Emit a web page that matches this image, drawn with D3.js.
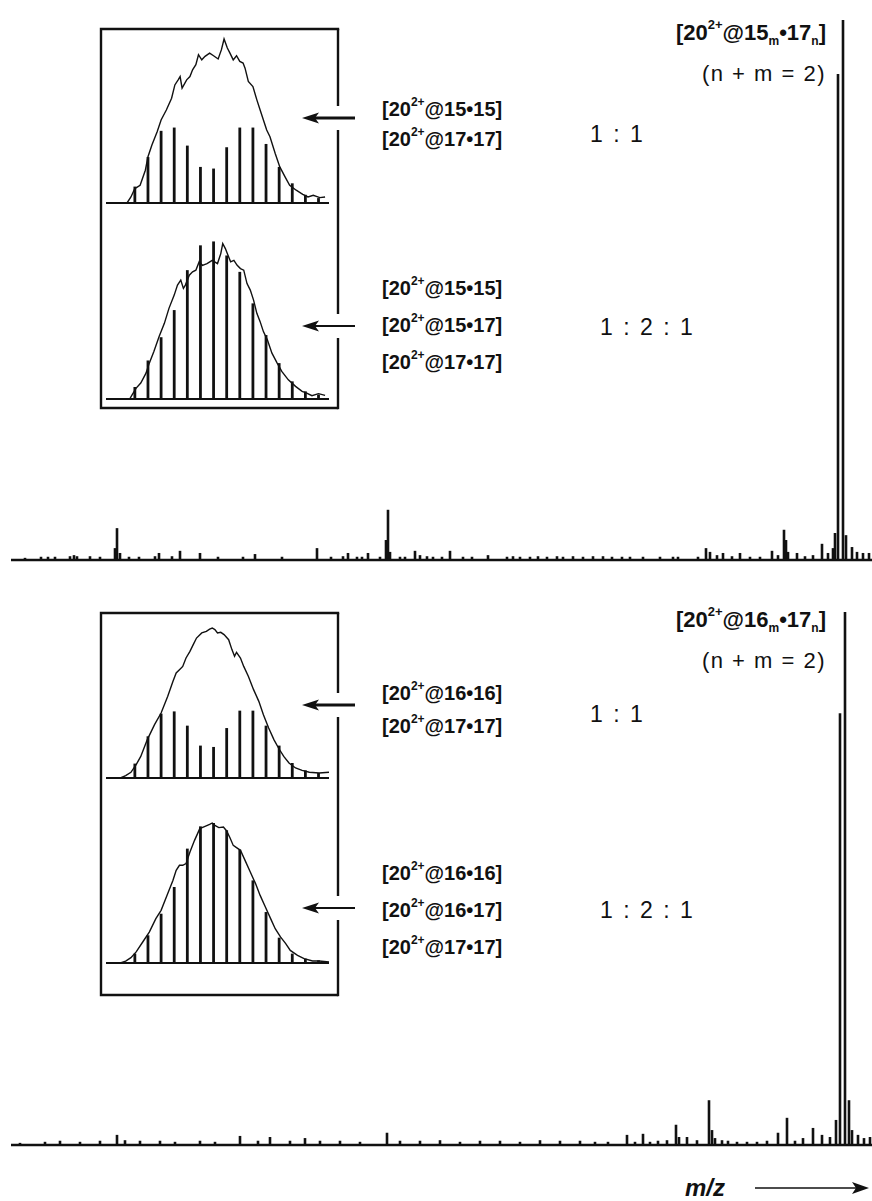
<!DOCTYPE html>
<html>
<head>
<meta charset="utf-8">
<script src="https://cdn.jsdelivr.net/npm/d3@7"></script>
<style>
  body { margin: 0; background: #fff; }
  text { font-family: "Liberation Sans", Arial, sans-serif; fill: #111; }
</style>
</head>
<body>
<svg id="chart" width="872" height="1201"></svg>
<script>
// ---- spectrum data: [m/z, relative intensity %] ----
const topPeaks = [
  [714, 0.4], [730, 0.6], [737, 0.6], [744, 0.6], [759, 0.7], [763, 0.9], [766, 0.7],
  [779, 0.7], [789, 0.6], [804, 2.2], [806, 5.9], [809, 1.3], [818, 0.6], [828, 0.6],
  [844, 0.7], [848, 1.3], [861, 0.7], [869, 1.7], [889, 1.3], [907, 0.6], [932, 0.6],
  [944, 1.1], [971, 0.6], [1006, 2.2], [1020, 0.6], [1032, 0.7], [1037, 1.3], [1046, 0.6],
  [1051, 0.6], [1057, 1.3], [1069, 0.6], [1075, 3.7], [1077, 9.3], [1079, 1.5], [1089, 0.6],
  [1094, 0.6], [1104, 1.7], [1109, 0.9], [1116, 0.7], [1122, 0.6], [1131, 0.6], [1139, 1.7],
  [1152, 0.6], [1161, 0.6], [1177, 0.9], [1196, 0.6], [1202, 0.7], [1209, 0.6], [1219, 0.6],
  [1227, 0.7], [1236, 0.6], [1246, 0.7], [1252, 0.6], [1262, 0.7], [1272, 0.6], [1282, 0.7],
  [1292, 0.7], [1301, 0.6], [1311, 0.6], [1319, 0.6], [1332, 0.6], [1349, 0.6], [1362, 0.6],
  [1367, 0.6], [1387, 0.6], [1395, 2.2], [1399, 1.5], [1406, 0.9], [1412, 1.3], [1421, 0.7],
  [1429, 1.3], [1439, 0.6], [1449, 0.6], [1461, 1.7], [1467, 0.9], [1473, 5.6], [1475, 3.7],
  [1477, 1.5], [1486, 1.3], [1494, 0.7], [1502, 0.9], [1511, 3.0], [1517, 1.3], [1522, 2.2],
  [1524, 5.0], [1527, 90], [1532, 100], [1535, 4.6], [1541, 2.4], [1546, 1.5], [1552, 1.3],
  [1558, 1.3]
];
const bottomPeaks = [
  [709, 0.4], [734, 0.6], [749, 0.8], [769, 0.6], [789, 0.8], [806, 1.9], [814, 0.9],
  [829, 0.8], [849, 0.8], [864, 0.6], [889, 0.8], [904, 0.6], [929, 1.7], [947, 0.8],
  [959, 1.5], [979, 0.8], [994, 1.3], [1009, 0.8], [1029, 0.8], [1049, 0.6], [1076, 2.3],
  [1089, 0.8], [1109, 0.8], [1129, 0.9], [1149, 0.6], [1169, 0.8], [1189, 0.8], [1209, 0.6],
  [1229, 0.9], [1249, 0.8], [1269, 0.8], [1284, 0.6], [1297, 0.6], [1316, 1.9], [1324, 0.6],
  [1332, 2.1], [1339, 0.6], [1347, 0.8], [1356, 0.9], [1365, 3.8], [1368, 1.5], [1376, 1.5],
  [1386, 0.9], [1398, 8.4], [1401, 2.8], [1404, 1.3], [1411, 0.9], [1417, 0.8], [1426, 0.6],
  [1436, 0.6], [1446, 0.6], [1456, 0.8], [1467, 2.3], [1476, 5.1], [1484, 0.8], [1492, 1.3],
  [1502, 3.2], [1511, 1.9], [1519, 1.5], [1525, 4.7], [1529, 81], [1534, 100], [1538, 8.4],
  [1541, 2.8], [1547, 1.9], [1553, 1.3], [1559, 1.5]
];
const mzDomain = [700, 1560];

// ---- inset data: isotope pattern envelope [offset, %] and stick intensities ----
const stickIndex = [0, 1, 2, 3, 4, 5, 6, 7, 8, 9, 10, 11, 12, 13, 14];
const env15a = [
  [-2.2, 0], [-0.6, 0], [-0.3, 3.7], [0, 8.8], [0.4, 10.8], [0.8, 20], [1.0, 28.2], [1.3, 35.3],
  [1.7, 43.5], [2.0, 50.6], [2.4, 56.7], [2.8, 63.9], [3.05, 72], [3.3, 75.1], [3.45, 77.1],
  [3.6, 70], [3.95, 75.1], [4.2, 77.1], [4.4, 81.2], [4.65, 84.3], [4.85, 90.4], [5.1, 87.3],
  [5.35, 89.4], [5.7, 91.4], [6.0, 89.8], [6.35, 87.8], [6.6, 93.5], [6.8, 100], [7.05, 94.5],
  [7.25, 91.4], [7.5, 87.3], [7.75, 89.8], [8.0, 86.3], [8.25, 85.3], [8.4, 82.2], [8.65, 74.1],
  [9.0, 71], [9.3, 62.9], [9.55, 56.7], [9.8, 50.6], [10.05, 44.5], [10.3, 40.4], [10.7, 30.2],
  [11.05, 22], [11.45, 15.9], [11.8, 10.8], [12.3, 7.8], [12.8, 5.3], [13.2, 3.7], [13.6, 4.7],
  [14.1, 3.3], [14.5, 3.7]
];
const sticks15a = [10, 28, 44, 46, 35, 22, 21, 34, 46, 46, 36, 22, 12, 5, 3];
const env15b = [
  [-2.0, 0], [-0.4, 0], [-0.2, 2.8], [0.1, 7], [0.45, 10.2], [0.85, 16.6], [1.1, 23], [1.45, 30.4],
  [1.85, 40], [2.25, 48.5], [2.6, 58.1], [3.0, 66.6], [3.25, 73], [3.5, 76.2], [3.7, 70.9],
  [3.85, 73], [4.15, 79.4], [4.4, 81.5], [4.65, 82.6], [4.9, 87.9], [5.15, 85.7], [5.5, 86.8],
  [5.9, 88.9], [6.3, 86.8], [6.55, 93.2], [6.7, 99.6], [6.9, 96.4], [7.1, 92.1], [7.3, 87.9],
  [7.55, 88.9], [7.8, 85.7], [8.05, 83.6], [8.3, 82.6], [8.55, 74], [8.8, 69.8], [9.05, 63.4],
  [9.3, 54.9], [9.55, 49.6], [9.8, 43.2], [10.1, 37.9], [10.45, 29.4], [10.85, 23], [11.2, 17.7],
  [11.7, 12.3], [12.25, 8.1], [12.75, 4.9], [13.1, 3.8], [13.5, 2.1], [14.0, 3.4], [14.5, 2.3]
];
const sticks15b = [7.7, 24.7, 39.6, 57, 82.6, 98.5, 101, 92, 81.5, 61.3, 41, 23, 11.3, 4.9, 2.8];
const env16a = [
  [-2.2, 0], [-1.1, 0], [-0.7, 1.6], [-0.3, 3.8], [0.1, 8.9], [0.45, 14.4], [0.95, 25.6],
  [1.5, 35.6], [2.0, 43.3], [2.5, 54.4], [2.9, 64.4], [3.15, 70], [3.4, 72.2], [3.65, 74.4],
  [3.9, 80], [4.2, 84.4], [4.45, 88.9], [4.7, 93.3], [5.1, 96.7], [5.45, 97.8], [5.7, 99.3],
  [5.9, 100], [6.1, 98.9], [6.3, 96.7], [6.55, 97.1], [6.8, 95.6], [7.15, 92.2], [7.4, 85.6],
  [7.6, 81.1], [7.75, 83.8], [8.05, 80], [8.3, 74.4], [8.65, 67.8], [9.05, 58.9], [9.45, 51.1],
  [9.8, 42.2], [10.2, 33.3], [10.6, 25.6], [10.95, 20], [11.35, 14.4], [11.75, 10], [12.25, 6.7],
  [12.75, 5.1], [13.3, 3.8], [14.05, 3.3], [14.8, 3.8]
];
const sticks16a = [9.6, 27.8, 42.9, 44.4, 34.9, 21.6, 20.7, 33.3, 44.9, 44.9, 34.9, 21.6, 10, 5.1, 3.3];
const env16b = [
  [-2.2, 0], [-1.1, 0], [-0.7, 1.4], [-0.3, 3.8], [0.1, 7.9], [0.6, 15], [1.1, 22.1], [1.6, 31.7],
  [2.0, 37.6], [2.5, 49.5], [2.9, 59], [3.15, 66.2], [3.4, 69.8], [3.65, 69.8], [3.9, 71],
  [4.2, 79.3], [4.55, 87.6], [4.95, 96], [5.35, 97.6], [5.7, 99], [5.9, 100], [6.1, 98.3],
  [6.4, 96.7], [6.75, 97.1], [7.0, 94.3], [7.25, 89.5], [7.5, 84], [7.75, 82.4], [8.05, 80.5],
  [8.4, 73.3], [8.8, 65], [9.2, 56.7], [9.55, 48.3], [9.95, 40], [10.35, 31.7], [10.7, 24.5],
  [11.1, 18.6], [11.5, 13.8], [11.85, 9], [12.4, 5.5], [12.9, 3.1], [13.55, 1.4], [14.05, 1.4],
  [14.8, 0.7]
];
const sticks16b = [6.7, 19.8, 35.2, 54.3, 81.7, 97.6, 100, 94.8, 81, 59, 36.4, 18.1, 6.7, 3.1, 1.9];
const insetDomain = [-2.2, 14.8];

// ---- text ----
const topPair = ['15•15', '17•17'];
const topTriple = ['15•15', '15•17', '17•17'];
const bottomPair = ['16•16', '17•17'];
const bottomTriple = ['16•16', '16•17', '17•17'];
const ratios = ['1 : 1', '1 : 2 : 1'];
const titleLigands = [['15', '17'], ['16', '17']];
const sumLabel = '(n + m = 2)';

const svg = d3.select('#chart');
const W = 872;

const xMz = d3.scaleLinear().domain(mzDomain).range([11, 871]);
const xInset = d3.scaleLinear().domain(insetDomain).range([106, 329]);

function drawSpectrum(peaks, base, top) {
  const y = d3.scaleLinear().domain([0, 100]).range([base, top]);
  const g = svg.append('g');
  g.selectAll('rect')
    .data(peaks)
    .enter()
    .append('rect')
    .attr('x', d => xMz(d[0]) - 1.3)
    .attr('width', 2.6)
    .attr('y', d => y(d[1]))
    .attr('height', d => base - y(d[1]))
    .attr('fill', '#111');
  g.append('line')
    .attr('x1', xMz(mzDomain[0])).attr('x2', W)
    .attr('y1', base).attr('y2', base)
    .attr('stroke', '#111').attr('stroke-width', 2.4);
}

function drawInset(env, sticks, base, top) {
  const y = d3.scaleLinear().domain([0, 100]).range([base, top]);
  const g = svg.append('g');
  g.selectAll('line.stick')
    .data(sticks)
    .enter()
    .append('line')
    .attr('class', 'stick')
    .attr('x1', (d, i) => xInset(stickIndex[i]))
    .attr('x2', (d, i) => xInset(stickIndex[i]))
    .attr('y1', base)
    .attr('y2', d => y(d))
    .attr('stroke', '#111')
    .attr('stroke-width', 2.8);
  const line = d3.line().x(d => xInset(d[0])).y(d => y(d[1]));
  g.append('path')
    .attr('d', line(env))
    .attr('fill', 'none')
    .attr('stroke', '#111')
    .attr('stroke-width', 1.4);
  g.append('line')
    .attr('x1', xInset(insetDomain[0])).attr('x2', xInset(insetDomain[1]))
    .attr('y1', base).attr('y2', base)
    .attr('stroke', '#111').attr('stroke-width', 2);
}

function drawBox(x0, y0, x1, y1, gaps) {
  const g = svg.append('g')
    .attr('stroke', '#111').attr('stroke-width', 2.4).attr('fill', 'none');
  g.append('path').attr('d', `M${x1},${y0 - 1.2}V${y0}H${x0}V${y1}H${x1}`);
  let from = y0;
  gaps.forEach(gy => {
    g.append('line').attr('x1', x1).attr('x2', x1).attr('y1', from).attr('y2', gy - 12);
    from = gy + 12;
  });
  g.append('line').attr('x1', x1).attr('x2', x1).attr('y1', from).attr('y2', y1 + 1.2);
}

function drawArrow(x0, x1, y, w) {
  svg.append('line')
    .attr('x1', x0).attr('x2', x1 + 12).attr('y1', y).attr('y2', y)
    .attr('stroke', '#111').attr('stroke-width', w);
  svg.append('path')
    .attr('d', `M${x1},${y}L${x1 + 17},${y - 5.5}L${x1 + 13},${y}L${x1 + 17},${y + 5.5}Z`)
    .attr('fill', '#111');
}

function complexLabel(x, y, ligands) {
  const t = svg.append('text')
    .attr('x', x).attr('y', y)
    .attr('font-size', 20).attr('font-weight', 'bold');
  t.append('tspan').text('[20');
  t.append('tspan').text('2+').attr('font-size', 12).attr('dy', -10);
  t.append('tspan').text('@' + ligands + ']').attr('dy', 10);
}

function title(xRight, y, pair) {
  const t = svg.append('text')
    .attr('x', xRight).attr('y', y)
    .attr('text-anchor', 'end')
    .attr('font-size', 22).attr('font-weight', 'bold');
  t.append('tspan').text('[20');
  t.append('tspan').text('2+').attr('font-size', 13).attr('dy', -11);
  t.append('tspan').text('@' + pair[0]).attr('dy', 11);
  t.append('tspan').text('m').attr('font-size', 12).attr('dy', 5);
  t.append('tspan').text('•' + pair[1]).attr('dy', -5);
  t.append('tspan').text('n').attr('font-size', 12).attr('dy', 5);
  t.append('tspan').text(']').attr('dy', -5);
}

function plainText(x, y, s, anchor, size, spacing) {
  svg.append('text')
    .attr('x', x).attr('y', y)
    .attr('text-anchor', anchor || 'start')
    .attr('font-size', size)
    .attr('letter-spacing', spacing)
    .text(s);
}

function panel(o) {
  const dy = o.dy;
  drawSpectrum(o.peaks, o.base, o.top);
  drawBox(101, 29 + dy, 338, 408 + dy + o.boxExtra, [o.arrows[0], o.arrows[1]]);
  drawInset(o.insets[0][0], o.insets[0][1], o.insetBase[0], o.insetTop[0]);
  drawInset(o.insets[1][0], o.insets[1][1], o.insetBase[1], o.insetTop[1]);
  drawArrow(355, 302, o.arrows[0], 2.8);
  drawArrow(355, 302, o.arrows[1], 2);
  o.pair.forEach((s, i) => complexLabel(382, o.pairY + i * o.pairGap, s));
  o.triple.forEach((s, i) => complexLabel(382, o.tripleY + i * 37, s));
  plainText(590, o.ratioY[0], ratios[0], 'start', 23, 2);
  plainText(600, o.ratioY[1], ratios[1], 'start', 23, 2);
  title(826, o.titleY, o.ligands);
  plainText(826, o.titleY + 41, sumLabel, 'end', 22, 1.5);
}

panel({
  dy: 0, peaks: topPeaks, base: 560, top: 20, boxExtra: 0,
  arrows: [118, 326],
  insets: [[env15a, sticks15a], [env15b, sticks15b]],
  insetBase: [203, 399], insetTop: [39, 243],
  pair: topPair, triple: topTriple,
  pairY: 116, pairGap: 30, tripleY: 295,
  ratioY: [142, 335], titleY: 40, ligands: titleLigands[0]
});

panel({
  dy: 584, peaks: bottomPeaks, base: 1145, top: 612, boxExtra: 3,
  arrows: [705, 908],
  insets: [[env16a, sticks16a], [env16b, sticks16b]],
  insetBase: [778, 963], insetTop: [628, 823],
  pair: bottomPair, triple: bottomTriple,
  pairY: 700, pairGap: 33, tripleY: 880,
  ratioY: [722, 918], titleY: 627, ligands: titleLigands[1]
});

// m/z axis label with arrow
svg.append('text')
  .attr('x', 705).attr('y', 1196)
  .attr('text-anchor', 'middle')
  .attr('font-size', 24).attr('font-weight', 'bold').attr('font-style', 'italic')
  .text('m/z');
svg.append('line')
  .attr('x1', 755).attr('x2', 858).attr('y1', 1188).attr('y2', 1188)
  .attr('stroke', '#111').attr('stroke-width', 1.5);
svg.append('path')
  .attr('d', 'M869,1188L852,1182L856,1188L852,1194Z')
  .attr('fill', '#111');
</script>
</body>
</html>
